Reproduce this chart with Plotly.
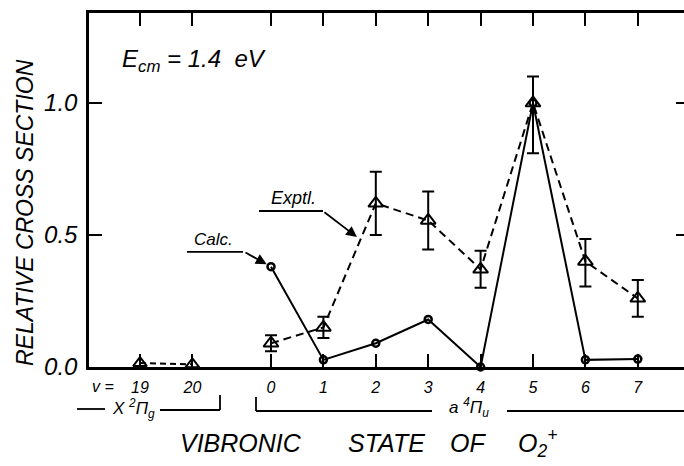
import plotly.graph_objects as go

# Vibronic states of O2+ : two levels of the X 2Pi_g state, eight of the a 4Pi_u state
x_labels = ["19", "20"]
a_labels = ["0", "1", "2", "3", "4", "5", "6", "7"]

# Calculated relative cross sections (a 4Pi_u, v = 0..7)
calc_a = [0.38, 0.027, 0.09, 0.18, 0.0, 1.0, 0.027, 0.03]

# Experimental relative cross sections with error bars
expt_x = [0.015, 0.01]
expt_a = [0.09, 0.15, 0.62, 0.555, 0.37, 1.0, 0.40, 0.26]
expt_a_plus = [0.03, 0.04, 0.12, 0.11, 0.07, 0.10, 0.085, 0.07]
expt_a_minus = [0.03, 0.04, 0.12, 0.11, 0.07, 0.19, 0.095, 0.07]

y_ticks = [0.0, 0.5, 1.0]
y_tick_text = ["0.0", "0.5", "1.0"]

# positions along the axis: the a-state block is set off from the X-state block
GAP = 1.5
pos_x = [float(i) for i in range(len(x_labels))]
pos_a = [len(x_labels) - 1 + GAP + i for i in range(len(a_labels))]

FONT = "Liberation Sans"
INK = "black"

# page geometry (pixels)
W, H = 684, 466
L, R, T, B = 89, 684, 13, 367


def px(xp):
    return (xp - L) / (R - L)


def py(yp):
    return (B - yp) / (B - T)


fig = go.Figure()

# experimental points, X state
fig.add_trace(go.Scatter(
    x=pos_x, y=expt_x, mode="lines+markers",
    line=dict(color=INK, width=2, dash="6px,4px"),
    marker=dict(symbol="triangle-up-open", size=12, color=INK, line=dict(width=2, color=INK)),
    showlegend=False, cliponaxis=False,
))

# experimental points, a state
fig.add_trace(go.Scatter(
    x=pos_a, y=expt_a, mode="lines+markers",
    line=dict(color=INK, width=2, dash="8px,5px"),
    marker=dict(symbol="triangle-up-open", size=13, color=INK, line=dict(width=2, color=INK)),
    error_y=dict(type="data", symmetric=False, array=expt_a_plus, arrayminus=expt_a_minus,
                 color=INK, thickness=2, width=6),
    showlegend=False, cliponaxis=False,
))

# calculated points
fig.add_trace(go.Scatter(
    x=pos_a, y=calc_a, mode="lines+markers",
    line=dict(color=INK, width=2),
    marker=dict(symbol="circle-open", size=7, color=INK, line=dict(width=2.5, color=INK)),
    showlegend=False, cliponaxis=False,
))

# invisible trace carrying the right-hand tick axis
fig.add_trace(go.Scatter(x=[pos_x[0]], y=[0], yaxis="y2", mode="markers",
                         marker=dict(opacity=0), showlegend=False, hoverinfo="skip"))

x_range = [(L - 140) / 52.4, (R - 140) / 52.4]
y_range = [0, (B - T) / 264]

fig.update_layout(
    width=W, height=H,
    margin=dict(l=L, r=W - R, t=T, b=H - B),
    paper_bgcolor="white", plot_bgcolor="white",
    font=dict(family=FONT, color=INK, style="italic"),
    xaxis=dict(
        range=x_range, showgrid=False, zeroline=False,
        showline=True, linecolor=INK, linewidth=2.5, mirror="ticks",
        ticks="inside", ticklen=13, tickwidth=2, tickcolor=INK,
        tickvals=pos_x + pos_a, ticktext=x_labels + a_labels,
        tickfont=dict(size=16, family=FONT, style="italic"),
        ticklabelstandoff=4,
    ),
    yaxis=dict(
        range=y_range, showgrid=False, zeroline=False,
        showline=True, linecolor=INK, linewidth=2.5, mirror=False,
        ticks="inside", ticklen=13, tickwidth=2, tickcolor=INK,
        tickvals=y_ticks, ticktext=y_tick_text,
        tickfont=dict(size=24, family=FONT, style="italic"),
        ticklabelstandoff=4,
    ),
    yaxis2=dict(
        range=y_range, overlaying="y", side="right", showgrid=False, zeroline=False,
        showline=False, ticks="inside", ticklen=8, tickwidth=2, tickcolor=INK,
        tickvals=y_ticks[1:], showticklabels=False,
    ),
)

ann = []


def text(x, y, s, size, xanchor="center", yanchor="middle", xref="paper", yref="paper", angle=0):
    ann.append(dict(x=x, y=y, xref=xref, yref=yref, text=s, showarrow=False,
                    xanchor=xanchor, yanchor=yanchor, textangle=angle,
                    font=dict(family=FONT, size=size, color=INK, style="italic")))


# axis titles
text(px(25), py(213), "RELATIVE CROSS SECTION", 23, angle=-90)
text(px(241), py(443), "VIBRONIC", 25)
text(px(386), py(443), "STATE", 25)
text(px(468), py(443), "OF", 25)
text(px(537), py(443), "O<sub>2</sub><sup>+</sup>", 25)

# energy label
text(px(120), py(60), "E<sub>cm</sub> = 1.4  eV", 24, xanchor="left")

# quantum-number prefix
text(px(103), py(386), "v =", 16)

# electronic-state brackets
text(px(133), py(408), "X <sup>2</sup>Π<sub>g</sub>", 17)
text(px(469), py(407), "a <sup>4</sup>Π<sub>u</sub>", 17)

# curve labels with pointers
text(1.41, 0.44, "Calc.", 17, xref="x", yref="y", yanchor="bottom")
text(2.92, 0.595, "Exptl.", 18, xref="x", yref="y", yanchor="bottom")
ann.append(dict(x=pos_a[0], y=calc_a[0], xref="x", yref="y", text="", showarrow=True,
                ax=-27, ay=-15, arrowhead=2, arrowsize=1.2, arrowwidth=1.8,
                arrowcolor=INK, standoff=5))
ann.append(dict(x=4.14, y=0.492, xref="x", yref="y", text="", showarrow=True,
                ax=-34, ay=-26, arrowhead=2, arrowsize=1.2, arrowwidth=1.8,
                arrowcolor=INK, standoff=0))

fig.update_layout(annotations=ann)

shapes = []


def seg(x0, y0, x1, y1, xref="paper", yref="paper", w=1.8):
    shapes.append(dict(type="line", x0=x0, y0=y0, x1=x1, y1=y1, xref=xref, yref=yref,
                       line=dict(color=INK, width=w)))


# X 2Pi_g bracket
seg(px(77), py(409), px(105), py(409))
seg(px(160), py(410), px(220), py(410))
seg(px(220), py(395), px(220), py(410))
# a 4Pi_u bracket
seg(px(256), py(397), px(256), py(411))
seg(px(256), py(411), px(432), py(411))
seg(px(507), py(411), px(684), py(411))

# label underlines
seg(0.897, 0.436, 1.966, 0.436, xref="x", yref="y")
seg(2.271, 0.591, 3.492, 0.591, xref="x", yref="y")

fig.update_layout(shapes=shapes)

fig.write_html("out.html")
